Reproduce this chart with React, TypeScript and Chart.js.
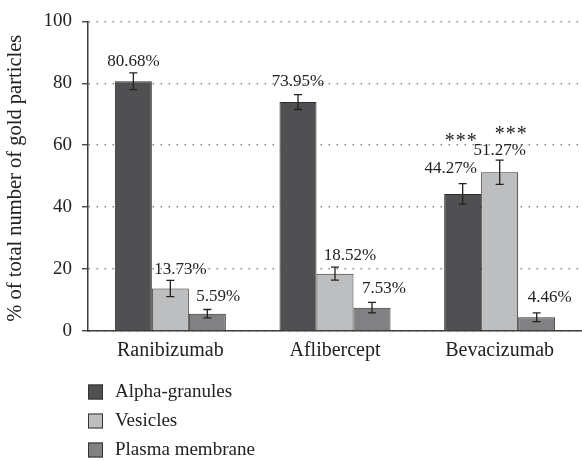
import React, { useEffect, useRef } from 'react';
import { Chart, registerables } from 'chart.js';

Chart.register(...registerables);

const categories = ['Ranibizumab', 'Aflibercept', 'Bevacizumab'];
const seriesNames = ['Alpha-granules', 'Vesicles', 'Plasma membrane'];
const alphaGranules = [80.68, 73.95, 44.27];
const vesicles = [13.73, 18.52, 51.27];
const plasmaMembrane = [5.59, 7.53, 4.46];
const alphaErr = [2.7, 2.4, 3.3];
const vesiclesErr = [2.6, 2.1, 3.9];
const plasmaErr = [1.35, 1.7, 1.4];
const alphaSig = ['', '', '***'];
const vesiclesSig = ['', '', '***'];
const plasmaSig = ['', '', ''];
const yTickValues = [0, 20, 40, 60, 80, 100];
const yTitle = '% of total number of gold particles';

const FONT = '"Liberation Serif", "Times New Roman", serif';
const TEXT = '#222222';
const fills = ['#505052', '#bdbec0', '#818184'];

// label placement tweaks (dx, dy relative to error-bar top)
const labelOffsets = [
  [[0, -11], [0, -13], [-12, -15]],
  [[10, -11], [15, -12], [0, -10]],
  [[11, -13], [12, -14], [13, -15]],
];
const starOffsets = [
  [[0, 0], [0, 0], [-2, -47]],
  [[0, 0], [0, 0], [11, -30]],
  [[0, 0], [0, 0], [0, 0]],
];

const overlay = {
  id: 'overlay',
  afterDatasetsDraw(chart: any) {
    const ctx = chart.ctx;
    const y = chart.scales.y;
    chart.data.datasets.forEach((ds: any, di: number) => {
      const meta = chart.getDatasetMeta(di);
      meta.data.forEach((bar: any, i: number) => {
        const v = ds.data[i];
        const e = ds.errors[i];
        const top = y.getPixelForValue(v + e);
        const bot = y.getPixelForValue(v - e);
        ctx.save();
        ctx.strokeStyle = TEXT;
        ctx.lineWidth = 1.3;
        ctx.beginPath();
        ctx.moveTo(bar.x, top);
        ctx.lineTo(bar.x, bot);
        ctx.moveTo(bar.x - 4, top);
        ctx.lineTo(bar.x + 4, top);
        ctx.moveTo(bar.x - 4, bot);
        ctx.lineTo(bar.x + 4, bot);
        ctx.stroke();
        ctx.font = `17px ${FONT}`;
        ctx.fillStyle = TEXT;
        ctx.textAlign = 'center';
        ctx.textBaseline = 'middle';
        const [dx, dy] = labelOffsets[di][i];
        ctx.fillText(v.toFixed(2) + '%', bar.x + dx, top + dy);
        const sig: string = ds.sig[i];
        if (sig) {
          const [sx, sy] = starOffsets[di][i];
          ctx.font = `20px ${FONT}`;
          const n = sig.length;
          for (let k = 0; k < n; k++) {
            ctx.fillText(sig[k], bar.x + sx + (k - (n - 1) / 2) * 11, top + sy + 5);
          }
        }
        ctx.restore();
      });
    });
  },
  afterDraw(chart: any) {
    const ctx = chart.ctx;
    const area = chart.chartArea;
    ctx.save();
    ctx.font = `20.5px ${FONT}`;
    ctx.fillStyle = TEXT;
    ctx.textAlign = 'center';
    ctx.textBaseline = 'middle';
    ctx.translate(16, (area.top + area.bottom) / 2 + 2);
    ctx.rotate(-Math.PI / 2);
    ctx.fillText(yTitle, 0, 0);
    ctx.restore();
    ctx.save();
    const startY = 392;
    const step = 29;
    chart.data.datasets.forEach((ds: any, di: number) => {
      const cy = startY + di * step;
      ctx.fillStyle = ds.backgroundColor;
      ctx.fillRect(88, cy - 7.5, 15, 15);
      ctx.strokeStyle = '#333';
      ctx.lineWidth = 1;
      ctx.strokeRect(88.5, cy - 7, 14, 14);
      ctx.fillStyle = TEXT;
      ctx.font = `19px ${FONT}`;
      ctx.textAlign = 'left';
      ctx.textBaseline = 'middle';
      ctx.fillText(ds.label, 115, cy);
    });
    ctx.restore();
  },
};

export default function App() {
  const ref = useRef<HTMLCanvasElement>(null);
  useEffect(() => {
    document.body.style.margin = '0';
    const seriesValues = [alphaGranules, vesicles, plasmaMembrane];
    const seriesErrors = [alphaErr, vesiclesErr, plasmaErr];
    const seriesSig = [alphaSig, vesiclesSig, plasmaSig];
    const chart = new Chart(ref.current as HTMLCanvasElement, {
      type: 'bar',
      data: {
        labels: categories,
        datasets: seriesNames.map((name, i) => ({
          label: name,
          data: seriesValues[i],
          errors: seriesErrors[i],
          sig: seriesSig[i],
          backgroundColor: fills[i],
          borderColor: '#2e2e2e',
          borderWidth: 1,
          barPercentage: 1,
          categoryPercentage: 0.674,
        })) as any,
      },
      options: {
        animation: false,
        responsive: false,
        layout: { padding: { top: 20, right: 0, bottom: 90, left: 0 } },
        plugins: { legend: { display: false }, tooltip: { enabled: false } },
        scales: {
          x: {
            grid: { display: false, drawTicks: false },
            border: { display: true, color: '#3a3a3a', width: 1.5 },
            ticks: { font: { family: FONT, size: 20 }, color: TEXT, padding: 8 },
            afterFit: (s: any) => { s.height = 40; },
          },
          y: {
            min: 0,
            max: 100,
            afterBuildTicks: (s: any) => { s.ticks = yTickValues.map((v) => ({ value: v })); },
            grid: {
              color: '#8a8a8a',
              lineWidth: 1.5,
              drawTicks: true,
              tickLength: 6,
              tickColor: '#3a3a3a',
              tickWidth: 1.3,
            },
            border: { display: true, color: '#3a3a3a', width: 1.5, dash: [1.5, 6.5] },
            ticks: { font: { family: FONT, size: 19 }, color: TEXT, padding: 10 },
            afterFit: (s: any) => { s.width = 88; },
          },
        },
      },
      plugins: [overlay],
    } as any);
    return () => chart.destroy();
  }, []);
  return <canvas ref={ref} width={582} height={461} style={{ display: 'block' }} />;
}
